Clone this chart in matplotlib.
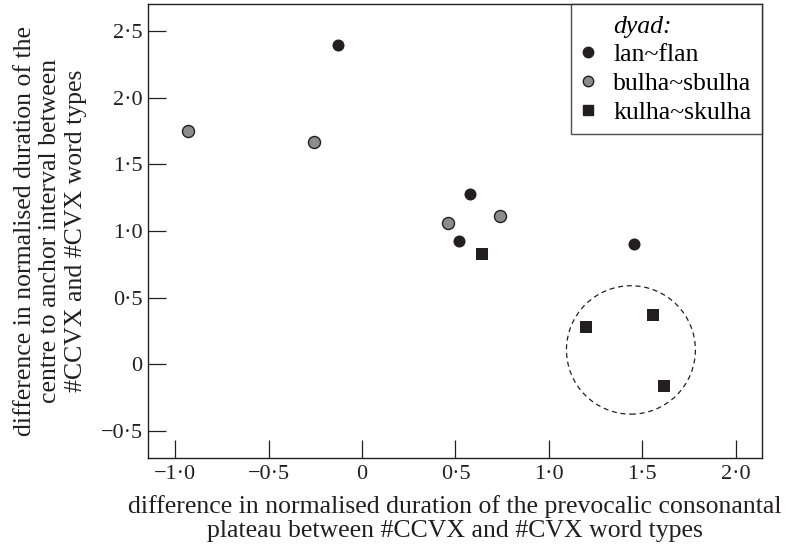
import matplotlib
matplotlib.use("Agg")
import matplotlib.pyplot as plt
from matplotlib.patches import Ellipse
from matplotlib.lines import Line2D

plt.rcParams["font.family"] = ["Liberation Serif", "DejaVu Serif"]

# data
lan_x = [-0.128, 0.576, 0.521, 1.458]
lan_y = [2.393, 1.275, 0.923, 0.905]
bulha_x = [-0.93, -0.257, 0.46, 0.74]
bulha_y = [1.752, 1.67, 1.062, 1.11]
kulha_x = [0.642, 1.199, 1.556, 1.617]
kulha_y = [0.83, 0.28, 0.368, -0.163]

legend_title = "dyad:"
legend_labels = ["lan~flan", "bulha~sbulha", "kulha~skulha"]

xticks = [-1.0, -0.5, 0, 0.5, 1.0, 1.5, 2.0]
xtick_labels = ["\u22121\u00b70", "\u22120\u00b75", "0", "0\u00b75", "1\u00b70", "1\u00b75", "2\u00b70"]
yticks = [-0.5, 0, 0.5, 1.0, 1.5, 2.0, 2.5]
ytick_labels = ["\u22120\u00b75", "0", "0\u00b75", "1\u00b70", "1\u00b75", "2\u00b70", "2\u00b75"]

black = "#231f20"
grey = "#8c8c8c"

fig = plt.figure(figsize=(7.92, 5.59), dpi=100)
ax = fig.add_axes([0.187, 0.181, 0.775, 0.811])

ax.scatter(lan_x, lan_y, s=75, c=black, marker="o", linewidths=0, zorder=3)
ax.scatter(bulha_x, bulha_y, s=75, c=grey, marker="o", edgecolors=black,
           linewidths=1.0, zorder=3)
ax.scatter(kulha_x, kulha_y, s=75, c=black, marker="s", linewidths=0, zorder=3)

# dashed circle around the cluster
ax.add_patch(Ellipse((1.439, 0.109), 0.69, 0.963, fill=False,
                     edgecolor=black, linestyle=(0, (4, 3)), linewidth=0.9))

ax.set_xlim(-1.145, 2.14)
ax.set_ylim(-0.70, 2.70)
ax.set_xticks(xticks)
ax.set_xticklabels(xtick_labels)
ax.set_yticks(yticks)
ax.set_yticklabels(ytick_labels)
ax.tick_params(direction="in", length=13, width=0.9, labelsize=16,
               colors=black)
ax.tick_params(axis="x", pad=5)
ax.tick_params(axis="y", pad=4)
for sp in ax.spines.values():
    sp.set_linewidth(1.0)
    sp.set_color(black)

ax.set_xlabel("difference in normalised duration of the prevocalic consonantal\n"
              "plateau between #CCVX and #CVX word types",
              fontsize=18.5, color=black, labelpad=8, linespacing=1.1)
ax.set_ylabel("difference in normalised duration of the\n"
              "centre to anchor interval between\n"
              "#CCVX and #CVX word types",
              fontsize=18.5, color=black, labelpad=10, linespacing=1.18)

# first legend row is the italic heading, aligned with the labels
handles = [
    Line2D([], [], linestyle="none", marker=""),
    Line2D([], [], marker="o", color=black, linestyle="none", markersize=7.5),
    Line2D([], [], marker="o", markerfacecolor=grey, markeredgecolor=black,
           linestyle="none", markersize=7.5),
    Line2D([], [], marker="s", color=black, linestyle="none", markersize=7),
]
leg = ax.legend(handles, [legend_title] + legend_labels,
                loc="upper right", borderaxespad=0,
                fancybox=False, edgecolor=black, fontsize=18.5,
                handletextpad=0.75, handlelength=0.5, labelspacing=0.22,
                borderpad=0.4)
leg.get_texts()[0].set_fontstyle("italic")
leg.get_frame().set_linewidth(1.0)

plt.savefig("out.png", dpi=100)
